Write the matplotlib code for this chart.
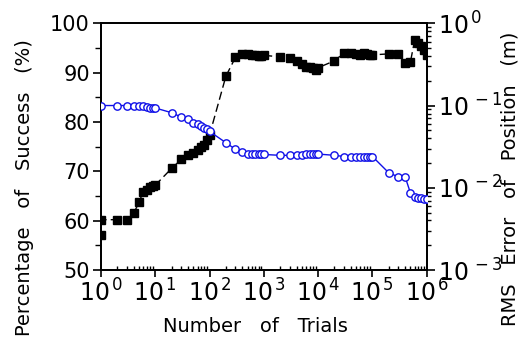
import matplotlib
matplotlib.use("Agg")
import matplotlib.pyplot as plt
from matplotlib.ticker import FixedLocator, NullFormatter, LogLocator

# ---- data ----
trials_success = [1, 1, 2, 3, 4, 5, 6, 7, 8, 9, 10, 20, 30, 40, 50, 60, 70, 80, 90, 100,
                  200, 300, 400, 500, 600, 700, 800, 900, 1000,
                  2000, 3000, 4000, 5000, 6000, 7000, 8000, 9000, 10000,
                  20000, 30000, 40000, 50000, 60000, 70000, 80000, 90000, 100000,
                  200000, 300000, 400000, 500000, 600000, 700000, 800000, 900000, 1000000]
success_pct = [57.1, 60.2, 60.2, 60.2, 61.5, 63.7, 65.9, 66.3, 66.9, 67.1, 67.2,
               70.6, 72.4, 73.3, 73.8, 74.4, 75.0, 75.3, 76.4, 77.4,
               89.3, 93.1, 93.7, 93.7, 93.6, 93.5, 93.3, 93.3, 93.5,
               93.2, 92.9, 92.3, 91.7, 91.2, 91.2, 90.9, 90.5, 91.0,
               92.4, 94.0, 94.0, 93.8, 93.6, 93.9, 93.8, 93.6, 93.6,
               93.8, 93.8, 91.9, 92.1, 96.6, 96.0, 95.3, 94.5, 93.5]

trials_rms = [1, 2, 3, 4, 5, 6, 7, 8, 9, 10, 20, 30, 40, 50, 60, 70, 80, 90, 100,
              200, 300, 400, 500, 600, 700, 800, 900, 1000,
              2000, 3000, 4000, 5000, 6000, 7000, 8000, 9000, 10000,
              20000, 30000, 40000, 50000, 60000, 70000, 80000, 90000, 100000,
              200000, 300000, 400000, 500000, 600000, 700000, 800000, 900000, 1000000]
rms_error = [0.100, 0.100, 0.100, 0.100, 0.100, 0.0977, 0.0955, 0.0933, 0.0933, 0.0933,
             0.0818, 0.0724, 0.0679, 0.0621, 0.0589, 0.0562, 0.0537, 0.0513, 0.0484,
             0.0353, 0.0293, 0.0269, 0.0257, 0.0254, 0.0254, 0.0254, 0.0254, 0.0254,
             0.0248, 0.0248, 0.0248, 0.0248, 0.0257, 0.0257, 0.0257, 0.0257, 0.0257,
             0.0248, 0.0240, 0.0240, 0.0240, 0.0240, 0.0240, 0.0240, 0.0240, 0.0240,
             0.0152, 0.0136, 0.0136, 0.0087, 0.00776, 0.00759, 0.00741, 0.00735, 0.00735]

x_ticks = [1, 10, 100, 1000, 10000, 100000, 1000000]
x_tick_labels = [r'$\mathregular{10^{\,%d}}$' % e for e in range(0, 7)]
left_ticks = [50, 60, 70, 80, 90, 100]
right_ticks = [1e-3, 1e-2, 1e-1, 1]
right_tick_labels = [r'$\mathregular{10^{\,-3}}$', r'$\mathregular{10^{\,-2}}$',
                     r'$\mathregular{10^{\,-1}}$', r'$\mathregular{10^{\,0}}$']

# ---- figure ----
plt.rcParams['font.family'] = ['DejaVu Sans']
fig = plt.figure(figsize=(5.27, 3.39), dpi=100)
ax = fig.add_axes([0.1917, 0.2035, 0.8097 - 0.1917, 0.9313 - 0.2035])

ax.plot(trials_success, success_pct, color='black', linestyle=(0, (6, 3)), linewidth=1.0,
        marker='s', markersize=5.3, markerfacecolor='black', markeredgecolor='black', zorder=3)
ax.set_xscale('log')
ax.set_xlim(1, 1e6)
ax.set_ylim(50, 100)
ax.xaxis.set_major_locator(FixedLocator(x_ticks))
ax.set_xticklabels(x_tick_labels)
ax.xaxis.set_minor_locator(LogLocator(base=10, subs=range(2, 10), numticks=20))
ax.xaxis.set_minor_formatter(NullFormatter())
ax.set_yticks(left_ticks)
ax.set_yticks([55, 65, 75, 85, 95], minor=True)
ax.tick_params(axis='x', which='major', direction='out', length=5, width=1.2, labelsize=17, pad=2)
ax.tick_params(axis='x', which='minor', direction='in', length=3, width=1)
ax.tick_params(axis='y', which='major', direction='out', length=6, width=1.2, labelsize=15, pad=2)
ax.tick_params(axis='y', which='minor', direction='out', length=4, width=1)
for s in ax.spines.values():
    s.set_linewidth(1.3)

ax2 = ax.twinx()
ax2.plot(trials_rms, rms_error, color='#1010e8', linestyle='-', linewidth=1.0,
         marker='o', markersize=5.3, markerfacecolor='white', markeredgecolor='#1010e8',
         markeredgewidth=1.0, zorder=4)
ax2.set_yscale('log')
ax2.set_ylim(1e-3, 1)
ax2.yaxis.set_major_locator(FixedLocator(right_ticks))
ax2.set_yticklabels(right_tick_labels)
ax2.yaxis.set_minor_locator(LogLocator(base=10, subs=range(2, 10), numticks=20))
ax2.yaxis.set_minor_formatter(NullFormatter())
ax2.tick_params(axis='y', which='major', direction='out', length=6, width=1.2, labelsize=17, pad=2)
ax2.tick_params(axis='y', which='minor', direction='out', length=3, width=1)
ax2.set_xlim(1, 1e6)
for s in ax2.spines.values():
    s.set_linewidth(1.3)

ax.set_xlabel('Number   of   Trials', fontsize=14)
ax.xaxis.set_label_coords(0.475, -0.19)
ax.set_ylabel('Percentage   of   Success   (%)', fontsize=14)
ax.yaxis.set_label_coords(-0.205, 0.335)
ax2.set_ylabel('RMS   Error   of   Position   (m)', fontsize=14)
ax2.yaxis.set_label_coords(1.228, 0.368)

fig.savefig('out.png', dpi=100)
